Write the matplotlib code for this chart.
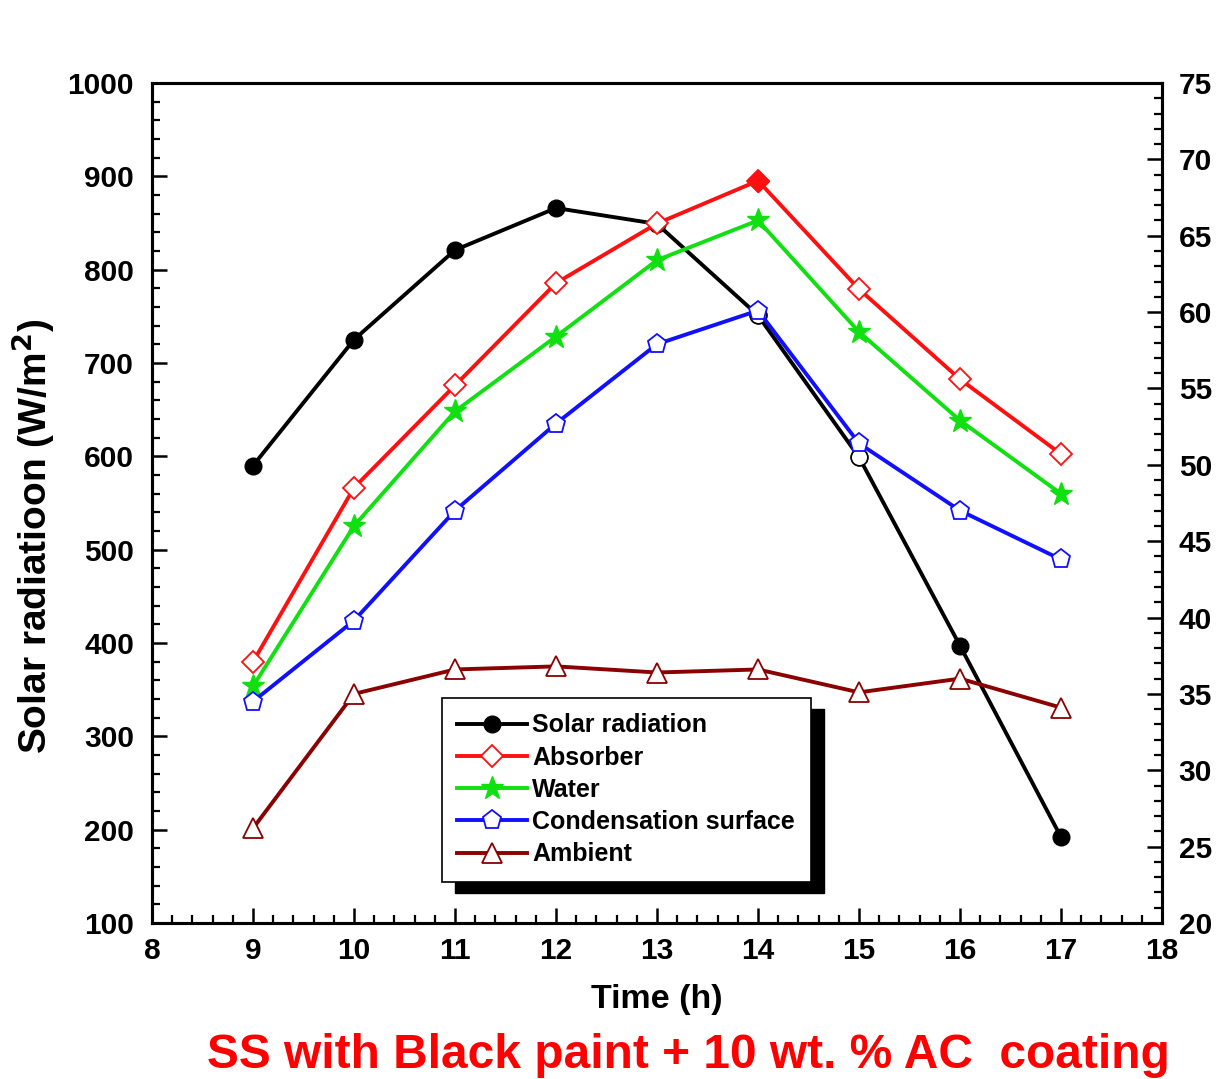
import matplotlib
matplotlib.use("Agg")
import matplotlib.pyplot as plt
from matplotlib.ticker import MultipleLocator
from matplotlib.patches import Rectangle

plt.rcParams['font.family'] = ['Liberation Sans', 'DejaVu Sans']
plt.rcParams['font.weight'] = 'bold'

time_h = [9, 10, 11, 12, 13, 14, 15, 16, 17]
solar = [590, 725, 821, 866, 849, 751, 599, 397, 192]
absorber = [37.1, 48.5, 55.2, 61.9, 65.8, 68.6, 61.5, 55.6, 50.7]
water = [35.5, 46.0, 53.5, 58.4, 63.4, 66.0, 58.7, 52.9, 48.1]
condensation = [34.5, 39.8, 47.0, 52.7, 57.9, 60.1, 51.4, 47.0, 43.8]
ambient = [26.2, 35.0, 36.6, 36.8, 36.4, 36.6, 35.1, 36.0, 34.1]

fig = plt.figure(figsize=(12.2, 10.79), dpi=100)
ax = fig.add_axes([0.1246, 0.1446, 0.8279, 0.7785])
ax2 = ax.twinx()

lw = 2.8
ms = 12
l1, = ax.plot(time_h, solar, '-o', color='black', lw=lw, ms=ms, mfc='black', mec='black',
              label='Solar radiation', zorder=3)
ax.plot(time_h[5:7], solar[5:7], 'o', ms=ms, mfc='white', mec='black', mew=1.2, zorder=3.5)

l2, = ax2.plot(time_h, absorber, '-D', color='#ff1010', lw=lw, ms=ms - 1, mfc='white',
               mec='#ff1010', mew=1.3, label='Absorber', zorder=3)
ax2.plot(time_h[5:6], absorber[5:6], 'D', ms=ms - 1, mfc='#ff1010', mec='#ff1010', zorder=3.5)
l3, = ax2.plot(time_h, water, '-*', color='#10e010', lw=lw, ms=ms + 5, mfc='#10e010',
               mec='#10e010', label='Water', zorder=3)
l4, = ax2.plot(time_h, condensation, '-p', color='#1010ff', lw=lw, ms=ms + 2, mfc='white',
               mec='#1010ff', mew=1.3, label='Condensation surface', zorder=3)
l5, = ax2.plot(time_h, ambient, '-^', color='#8b0000', lw=lw, ms=ms + 2, mfc='white',
               mec='#8b0000', mew=1.3, label='Ambient', zorder=3)

ax.set_xlim(8, 18)
ax.set_ylim(100, 1000)
ax2.set_ylim(20, 75)

ax.xaxis.set_major_locator(MultipleLocator(1))
ax.xaxis.set_minor_locator(MultipleLocator(0.2))
ax.yaxis.set_major_locator(MultipleLocator(100))
ax.yaxis.set_minor_locator(MultipleLocator(20))
ax2.yaxis.set_major_locator(MultipleLocator(5))
ax2.yaxis.set_minor_locator(MultipleLocator(1))

for a in (ax, ax2):
    for s in a.spines.values():
        s.set_linewidth(2.2)
    a.tick_params(which='major', direction='in', length=11, width=1.8, labelsize=21.5, pad=8)
    a.tick_params(which='minor', direction='in', length=6, width=1.6)
ax.tick_params(axis='both', which='both', top=False, right=False)
ax.tick_params(axis='x', pad=10)
ax.tick_params(axis='y', pad=13)
ax2.tick_params(axis='y', which='both', left=False, right=True, pad=12)

for lab in ax.get_xticklabels() + ax.get_yticklabels() + ax2.get_yticklabels():
    lab.set_fontweight('bold')

ax.set_xlabel('Time (h)', fontsize=24.5, fontweight='bold', labelpad=14)
ax.set_ylabel('Solar radiatioon (W/m$^\\mathbf{2}$)', fontsize=28, fontweight='bold')
ax.yaxis.set_label_coords(-0.094, 0.46)

leg = ax2.legend(handles=[l1, l2, l3, l4, l5], loc='upper left',
                 bbox_to_anchor=(0.287, 0.268),
                 fontsize=18, frameon=True, fancybox=False, edgecolor='black',
                 framealpha=1, facecolor='white',
                 handlelength=2.8, handletextpad=0.2, labelspacing=0.33,
                 borderpad=0.62, borderaxespad=0)
leg.get_frame().set_linewidth(1.2)
leg.set_zorder(10)
for t in leg.get_texts():
    t.set_fontweight('bold')

fig.canvas.draw()
bb = leg.get_window_extent().transformed(ax2.transAxes.inverted())
dx = 13 / (ax.bbox.width)
dy = 11 / (ax.bbox.height)
shadow = Rectangle((bb.x0 + dx, bb.y0 - dy), bb.width, bb.height, transform=ax2.transAxes,
                   facecolor='black', edgecolor='black', zorder=9, clip_on=False)
ax2.add_patch(shadow)

fig.text(0.1697, 0.0102, 'SS with Black paint + 10 wt. % AC  coating', color='#ff0000',
         fontsize=34.5, fontweight='bold', ha='left', va='baseline')

fig.savefig('out.png', dpi=100)
